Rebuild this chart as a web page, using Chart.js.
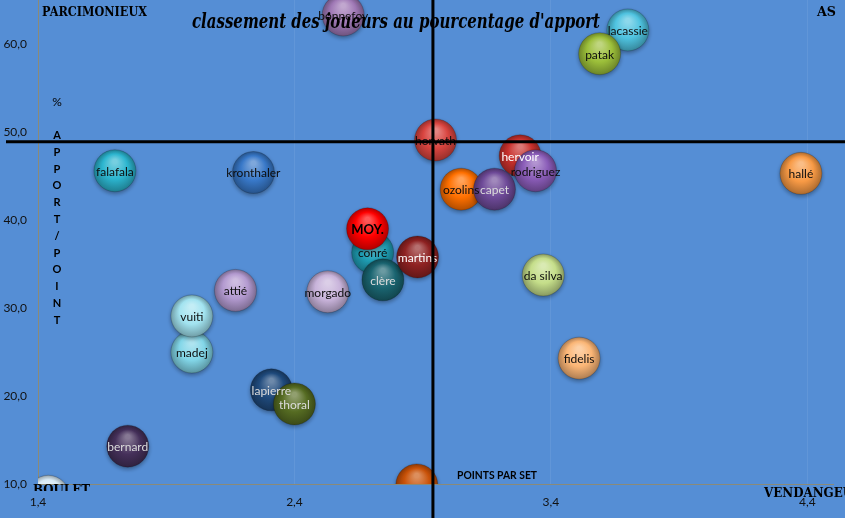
<!DOCTYPE html>
<html>
<head>
<meta charset="utf-8">
<script src="https://cdn.jsdelivr.net/npm/chart.js@4"></script>
<style>
  html, body { margin: 0; padding: 0; background: #558ed5; }
  #wrap { width: 845px; height: 518px; }
</style>
</head>
<body>
<div id="wrap"><canvas id="apportChart" width="845" height="518"></canvas></div>
<script>
// joueurs (ordre = ordre de dessin, le dernier est au-dessus)
const joueurs = ['', 'bernard', 'madej', 'vuiti', 'lapierre', 'thoral', 'attié', 'morgado',
  'falafala', 'kronthaler', 'conré', 'MOY.', 'clère', 'martins', '', 'horvath', 'ozolins',
  'hervoir', 'capet', 'rodriguez', 'da silva', 'fidelis', 'hallé', 'lacassie', 'patak', 'bonnefoy'];
// points par set
const pointsParSet = [1.44, 1.75, 2.00, 2.00, 2.31, 2.40, 2.17, 2.53,
  1.70, 2.24, 2.705, 2.685, 2.745, 2.88, 2.877, 2.95, 3.05,
  3.28, 3.18, 3.34, 3.37, 3.51, 4.375, 3.70, 3.59, 2.59];
// % apport / point
const apport = [8.6, 14.3, 25.0, 29.1, 20.7, 19.1, 32.0, 31.85,
  45.6, 45.4, 36.3, 39.0, 33.2, 35.8, 9.9, 49.1, 43.5,
  47.3, 43.5, 45.6, 33.75, 24.3, 45.3, 61.6, 58.9, 63.3];
const xTicks = [1.4, 2.4, 3.4, 4.4];
const yTicks = [10, 20, 30, 40, 50, 60];
// lignes de séparation des quadrants
const seuilPoints = 2.94;
const seuilApport = 48.9;

const couleurs = ['#d8eaf6', '#45305a', '#82d6e8', '#a2e3f0', '#1f4a7c', '#556b22', '#b39ad0', '#c8b3da',
  '#2cb5cf', '#3878c8', '#1f9fb5', '#ff0000', '#1a6470', '#8f2222', '#c95208', '#d9443f', '#ff7000',
  '#c8302c', '#6e4a98', '#8a5cb8', '#c5de8a', '#fbb676', '#f89a45', '#4fc3e0', '#9cbf3a', '#9f78b5'];
const texteClair = ['bernard', 'lapierre', 'thoral', 'capet', 'clère'];
const texteBlanc = ['hervoir', 'martins'];

const RAYON = 21;

function shade(hex, amt) {
  const n = parseInt(hex.slice(1), 16);
  let r = n >> 16, g = (n >> 8) & 255, b = n & 255;
  const t = amt < 0 ? 0 : 255, p = Math.abs(amt);
  r = Math.round((t - r) * p + r);
  g = Math.round((t - g) * p + g);
  b = Math.round((t - b) * p + b);
  return 'rgb(' + r + ',' + g + ',' + b + ')';
}

function boule(ctx) {
  const base = couleurs[ctx.dataIndex] || couleurs[0];
  if (ctx.type !== 'data') return base;
  const chart = ctx.chart;
  const px = chart.scales.x.getPixelForValue(pointsParSet[ctx.dataIndex]);
  const py = chart.scales.y.getPixelForValue(apport[ctx.dataIndex]);
  if (!isFinite(px) || !isFinite(py)) return base;
  const g = chart.ctx.createRadialGradient(px, py - RAYON * 0.45, RAYON * 0.1, px, py, RAYON);
  g.addColorStop(0, shade(base, 0.35));
  g.addColorStop(0.55, base);
  g.addColorStop(1, shade(base, -0.3));
  return g;
}

const virgule = v => Number(v).toFixed(1).replace('.', ',');

const fond = {
  id: 'fond',
  beforeDraw(chart) {
    const c = chart.ctx;
    c.save();
    c.fillStyle = '#558ed5';
    c.fillRect(0, 0, chart.width, chart.height);
    c.restore();
  },
  beforeDatasetDraw(chart) {
    const c = chart.ctx;
    c.shadowColor = 'rgba(0,0,0,0.35)';
    c.shadowBlur = 4;
    c.shadowOffsetY = 2;
  },
  afterDatasetDraw(chart) {
    const c = chart.ctx;
    c.shadowColor = 'rgba(0,0,0,0)';
    c.shadowBlur = 0;
    c.shadowOffsetY = 0;
  }
};

const etiquettes = {
  id: 'etiquettes',
  afterDatasetsDraw(chart) {
    const c = chart.ctx;
    const area = chart.chartArea;
    const meta = chart.getDatasetMeta(0);
    c.save();
    c.textAlign = 'center';
    c.textBaseline = 'middle';
    meta.data.forEach((pt, i) => {
      const nom = joueurs[i];
      if (!nom || pt.y > area.bottom) return;
      if (nom === 'MOY.') {
        c.font = 'bold 13px Lato';
        c.fillStyle = '#000';
      } else {
        c.font = '12px Lato';
        c.fillStyle = texteBlanc.includes(nom) ? '#ffffff' : texteClair.includes(nom) ? '#dcdcdc' : '#0d0d0d';
      }
      c.fillText(nom, pt.x, pt.y + 1);
    });

    // quadrants
    const xs = chart.scales.x.getPixelForValue(seuilPoints);
    const ys = chart.scales.y.getPixelForValue(seuilApport);
    c.strokeStyle = '#000';
    c.lineWidth = 3;
    c.beginPath();
    c.moveTo(6, ys);
    c.lineTo(chart.width, ys);
    c.moveTo(xs, 0);
    c.lineTo(xs, chart.height);
    c.stroke();
    c.restore();
  },
  afterDraw(chart) {
    const c = chart.ctx;
    c.save();
    c.fillStyle = '#000';
    c.textBaseline = 'alphabetic';
    c.textAlign = 'left';
    c.font = 'bold 13px "DejaVu Serif"';
    c.fillText('PARCIMONIEUX', 42, 16, 105);
    c.fillText('AS', 817, 16, 19);
    c.fillText('VENDANGEUR', 764, 497, 99);
    c.save();
    c.beginPath();
    c.rect(0, 0, chart.width, 491);
    c.clip();
    c.fillText('BOULET', 33, 494, 57);
    c.restore();

    c.font = 'bold 11px Lato';
    c.fillText('POINTS PAR SET', 457, 479, 80);

    c.textAlign = 'center';
    c.font = '12px Lato';
    c.fillText('%', 57, 106);
    c.font = 'bold 11px Lato';
    'APPORT/POINT'.split('').forEach((ch, i) => {
      c.fillText(ch, 57, 139 + i * 16.8);
    });

    c.font = 'italic bold 20px "DejaVu Serif"';
    c.fillText("classement des joueurs au pourcentage d'apport", 396, 28, 408);
    c.restore();
  }
};

new Chart(document.getElementById('apportChart'), {
  type: 'bubble',
  data: {
    datasets: [{
      label: 'joueurs',
      data: pointsParSet.map((x, i) => ({ x: x, y: apport[i] })),
      backgroundColor: boule,
      borderColor: 'rgba(0,0,0,0.18)',
      borderWidth: 1,
      radius: RAYON,
      clip: 0
    }]
  },
  options: {
    responsive: false,
    animation: false,
    events: [],
    layout: { autoPadding: false, padding: { top: 0, right: 12, bottom: 0, left: 0 } },
    plugins: {
      legend: { display: false },
      title: { display: false },
      tooltip: { enabled: false }
    },
    scales: {
      x: {
        type: 'linear',
        min: 1.4,
        max: 4.5,
        afterBuildTicks: s => { s.ticks = xTicks.map(v => ({ value: v })); },
        afterFit: s => { s.height = 34; s.paddingLeft = 0; s.paddingRight = 0; },
        ticks: {
          padding: 11,
          color: '#111',
          font: { family: 'Lato', size: 12 },
          callback: virgule
        },
        grid: { color: 'rgba(255,255,255,0.07)', drawTicks: false },
        border: { color: '#8a8a78', width: 1 }
      },
      y: {
        type: 'linear',
        min: 10,
        max: 65,
        afterBuildTicks: s => { s.ticks = yTicks.map(v => ({ value: v })); },
        afterFit: s => { s.width = 38; s.paddingTop = 0; s.paddingBottom = 0; },
        ticks: {
          padding: 11,
          color: '#111',
          font: { family: 'Lato', size: 12 },
          callback: virgule
        },
        grid: { display: false, drawTicks: false },
        border: { color: '#8a8a78', width: 1 }
      }
    }
  },
  plugins: [fond, etiquettes]
});
</script>
</body>
</html>
